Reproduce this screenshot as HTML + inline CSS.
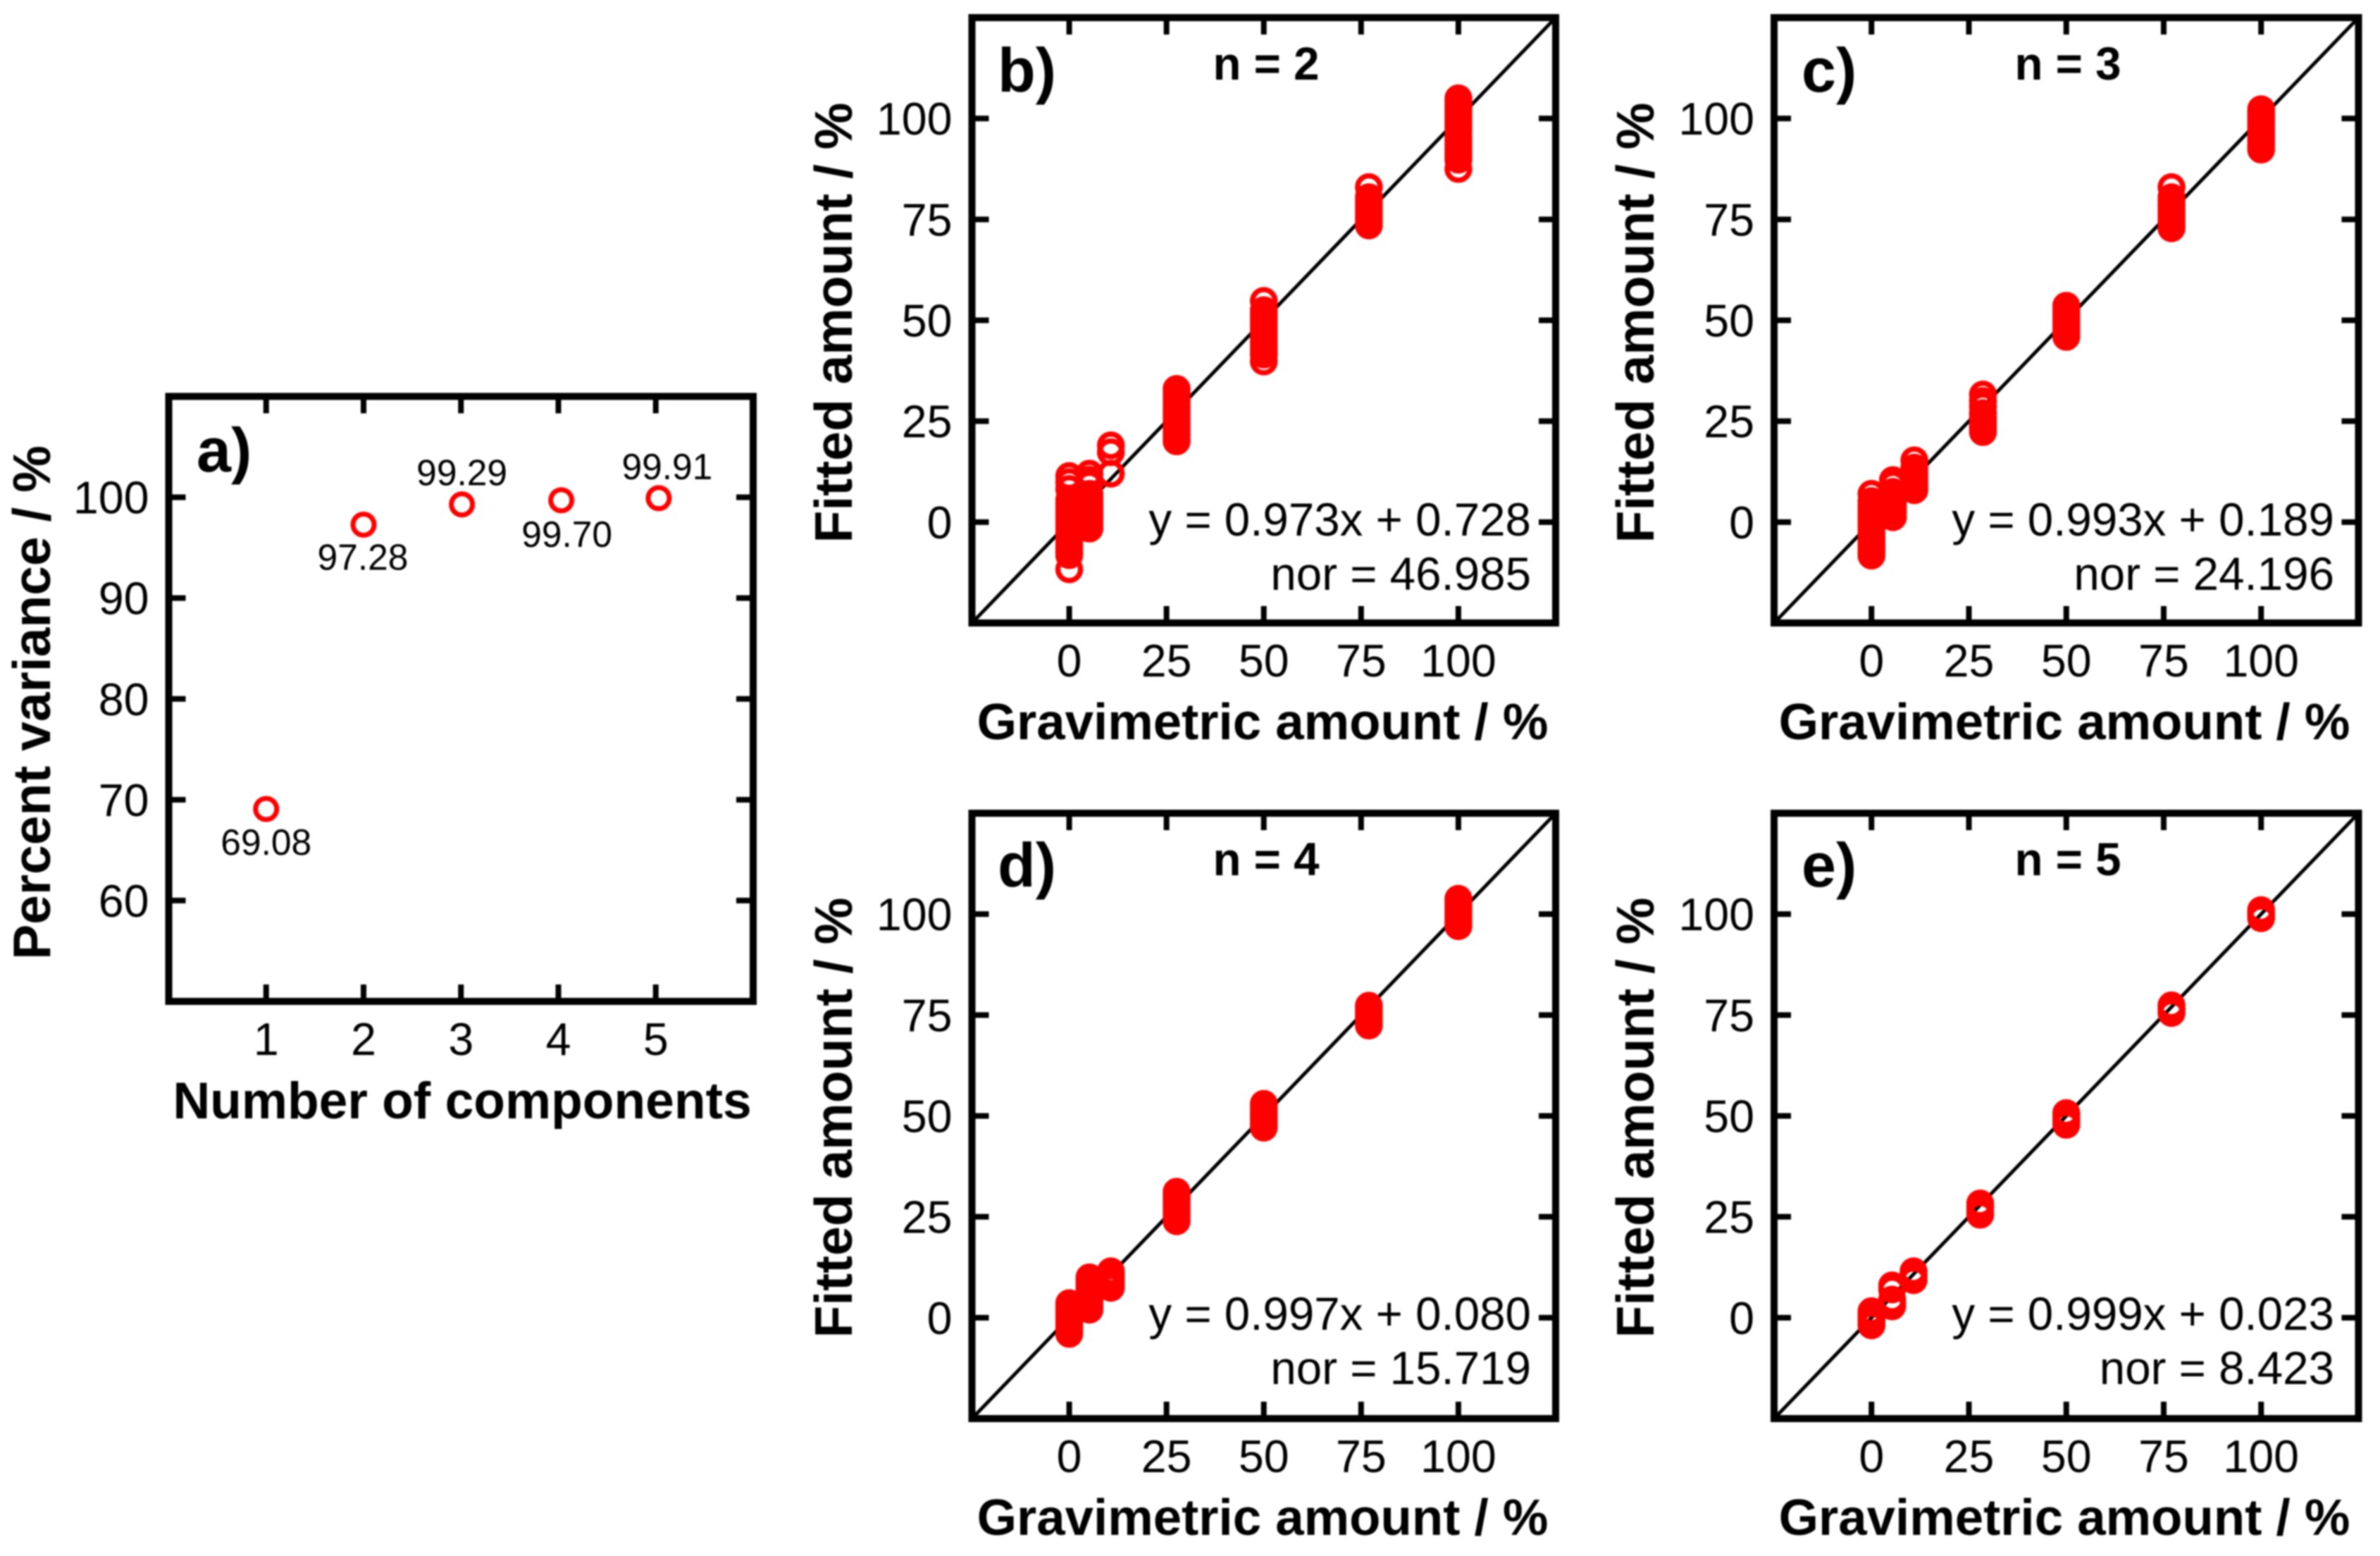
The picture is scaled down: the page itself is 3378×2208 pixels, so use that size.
<!DOCTYPE html>
<html lang="en">
<head>
<meta charset="utf-8">
<title>Percent variance and fitted versus gravimetric amount</title>
<style>
html,body{margin:0;padding:0;background:#fff;}
body{width:3378px;height:2208px;overflow:hidden;}
svg{display:block;filter:blur(1px);}
text{font-family:"Liberation Sans",Arial,sans-serif;fill:#000;}
.tick{font-size:64.5px;}
.title-x{font-size:72.6px;font-weight:bold;text-anchor:middle;}
.title-y{font-size:75px;font-weight:bold;text-anchor:middle;}
.panel-label{font-size:88px;font-weight:bold;}
.n-label{font-size:65.5px;font-weight:bold;text-anchor:middle;}
.fit{font-size:65.5px;text-anchor:end;}
.frame{fill:none;stroke:#000;stroke-width:10;}
</style>
</head>
<body>
<svg id="figure" xmlns="http://www.w3.org/2000/svg" width="3378" height="2208" viewBox="0 0 3378 2208">
  <rect x="0" y="0" width="3378" height="2208" fill="#fff"/>

  <g id="panel-a">
    <text class="title-y" x="71" y="997" transform="rotate(-90 71 997)">Percent variance / %</text>
    <text class="title-x" style="font-size:73.2px" x="656" y="1587">Number of components</text>
    <text class="panel-label" x="279" y="669">a)</text>
  </g>

  <g id="panel-b">
    <text class="title-y" x="1209" y="458" transform="rotate(-90 1209 458)">Fitted amount / %</text>
    <text class="title-x" x="1792" y="1049">Gravimetric amount / %</text>
    <text class="panel-label" x="1416" y="130">b)</text>
    <text class="n-label" x="1797" y="113">n = 2</text>
    <text class="fit" x="2173" y="760">y = 0.973x + 0.728</text>
    <text class="fit" x="2173" y="837">nor = 46.985</text>
  </g>

  <g id="panel-c">
    <text class="title-y" x="2347" y="458" transform="rotate(-90 2347 458)">Fitted amount / %</text>
    <text class="title-x" x="2930" y="1049">Gravimetric amount / %</text>
    <text class="panel-label" x="2557" y="130">c)</text>
    <text class="n-label" x="2935" y="113">n = 3</text>
    <text class="fit" x="3313" y="760">y = 0.993x + 0.189</text>
    <text class="fit" x="3313" y="837">nor = 24.196</text>
  </g>

  <g id="panel-d">
    <text class="title-y" x="1209" y="1586" transform="rotate(-90 1209 1586)">Fitted amount / %</text>
    <text class="title-x" x="1792" y="2178">Gravimetric amount / %</text>
    <text class="panel-label" x="1416" y="1258">d)</text>
    <text class="n-label" x="1797" y="1242">n = 4</text>
    <text class="fit" x="2173" y="1887">y = 0.997x + 0.080</text>
    <text class="fit" x="2173" y="1964">nor = 15.719</text>
  </g>

  <g id="panel-e">
    <text class="title-y" x="2347" y="1586" transform="rotate(-90 2347 1586)">Fitted amount / %</text>
    <text class="title-x" x="2930" y="2178">Gravimetric amount / %</text>
    <text class="panel-label" x="2557" y="1258">e)</text>
    <text class="n-label" x="2935" y="1242">n = 5</text>
    <text class="fit" x="3313" y="1887">y = 0.999x + 0.023</text>
    <text class="fit" x="3313" y="1964">nor = 8.423</text>
  </g>
</svg>

<script>
// ---- data ----
const componentTicks = [1, 2, 3, 4, 5];
const varianceTicks = [60, 70, 80, 90, 100];
const amountTicks = [0, 25, 50, 75, 100];

const componentCounts = [1, 2, 3.01, 4.03, 5.03];
const percentVariance = [69.08, 97.28, 99.29, 99.70, 99.91];
const varianceLabels = ['69.08', '97.28', '99.29', '99.70', '99.91'];

const gravimetricB = [0, 5.2, 10.7, 27.6, 50, 77, 100];
const fittedB0 = [11.4, 9.9, 8.2, 5.5, 4.5, 3.5, 2.5, 1.5, 0.5, -0.5, -1.5, -2.5, -3.3, -4.2, -5, -5.8, -6.6, -7.5, -8.2, -11.7];
const fittedB5 = [12, 10.5, 9.3, 7, 6, 5, 4, 3.2, 2.5, 1.8, 1, 0.2, -0.8, -1.6];
const fittedB10 = [19, 17.3, 12];
const fittedB27 = [33, 32, 31, 29.8, 28.6, 27.5, 26.5, 25.5, 24.5, 23.5, 22.5, 21.5, 20.5, 20];
const fittedB50 = [54.8, 52.5, 51.5, 50.5, 49.5, 48.5, 47.5, 46.5, 45.5, 44.5, 43.5, 42.5, 41.5, 39.8];
const fittedB77 = [83, 80.5, 79.5, 78.5, 77.5, 76.5, 75.5, 74.5, 73.5];
const fittedB100 = [105, 104, 103, 102, 101, 100, 99, 98, 97, 95.5, 94.5, 93.5, 92.5, 91.5, 90.5, 89.8, 87.5];

const gravimetricC = [0, 5.5, 11, 28.6, 50, 77, 100];
const fittedC0 = [7, 5.2, 4.2, 3.2, 2.2, 1.2, 0.2, -0.8, -1.8, -2.8, -3.8, -4.8, -5.8, -6.8, -7.6, -8.3];
const fittedC5 = [10.4, 9.3, 7.5, 6.5, 5.5, 4.5, 3.5, 2.5, 1.2];
const fittedC10 = [15.3, 13.5, 12.5, 11.5, 10.5, 9.5, 8.7, 7.9];
const fittedC27 = [31.6, 30, 28.7, 27, 26, 25, 24, 23.2, 22.3];
const fittedC50 = [53.6, 52.7, 51.7, 50.7, 49.7, 48.7, 47.7, 46.7, 45.9];
const fittedC77 = [83, 80.5, 79.5, 78.5, 77.5, 76.5, 75.5, 74.5, 73.5, 72.8];
const fittedC100 = [102.3, 101.3, 100.3, 99.3, 98.3, 97.3, 96.3, 95.3, 94.3, 93.3, 92.3];

const gravimetricD = [0, 5.2, 10.7, 27.6, 50, 77, 100];
const fittedD0 = [3.6, 2.8, 2, 1.2, 0.4, -0.4, -1.2, -2, -2.8, -3.5, -4];
const fittedD5 = [10, 9.2, 8.4, 7.6, 6.8, 6, 5.2, 4.4, 3.6, 2.8, 2];
const fittedD10 = [11.5, 10.8, 10.1, 9.4, 8.7, 8, 7.4];
const fittedD27 = [31.2, 30.4, 29.6, 28.8, 28, 27.2, 26.4, 25.6, 24.8, 23.9];
const fittedD50 = [53, 52.2, 51.4, 50.6, 49.8, 49, 48.2, 47.6, 47.1];
const fittedD77 = [77.3, 76.6, 75.9, 75.2, 74.5, 73.8, 73.1, 72.4];
const fittedD100 = [103.8, 103, 102.2, 101.4, 100.6, 99.8, 99, 98.2, 97.5, 97];

const gravimetricE = [0, 5.3, 10.8, 27.9, 50, 77, 100];
const fittedE0 = [1.6, 0.8, 0, -0.5, -1, -1.9];
const fittedE5 = [8, 7, 4.5, 3.8, 3.2, 2.8];
const fittedE10 = [11.5, 11, 10.5, 10, 9.3];
const fittedE27 = [28.3, 27.5, 26.5, 25.5];
const fittedE50 = [50.7, 50, 49.3, 48.5, 47.8];
const fittedE77 = [77.4, 76.8, 76.2, 75.5];
const fittedE100 = [101, 100.3, 100, 99.3, 99];

const amountDomain = [-25, 125];
const componentDomain = [0, 6];
const varianceDomain = [50, 110];

// ---- layout ----
const NS = 'http://www.w3.org/2000/svg';
const labelNudges = [[0, 65], [-1, 64], [0, -27], [8, 66], [12, -27]];

function makeScale(domain, a, b) {
  return function (v) {
    return a + (v - domain[0]) / (domain[1] - domain[0]) * (b - a);
  };
}

function make(tag, attrs, parent) {
  const el = document.createElementNS(NS, tag);
  for (const k in attrs) el.setAttribute(k, attrs[k]);
  parent.appendChild(el);
  return el;
}

function drawAxes(g, box, sx, sy, xTicks, yTicks) {
  const left = box[0], top = box[1], right = box[2], bottom = box[3];
  const len = 24;
  xTicks.forEach(function (t) {
    const x = sx(t);
    const lo = make('line', { x1: x, x2: x, y1: bottom, y2: bottom - len, stroke: '#000', 'stroke-width': 8 }, g);
    
    
    const hi = make('line', { x1: x, x2: x, y1: top, y2: top + len, stroke: '#000', 'stroke-width': 8 }, g);
    
    
    const lab = make('text', { x: x, y: bottom + 76, class: 'tick', 'text-anchor': 'middle' }, g);
    
    
    lab.textContent = String(t);
  });
  yTicks.forEach(function (t) {
    const y = sy(t);
    const lo = make('line', { x1: left, x2: left + len, y1: y, y2: y, stroke: '#000', 'stroke-width': 8 }, g);
    
    
    const hi = make('line', { x1: right, x2: right - len, y1: y, y2: y, stroke: '#000', 'stroke-width': 8 }, g);
    
    
    const lab = make('text', { x: left - 28, y: y + 23, class: 'tick', 'text-anchor': 'end' }, g);
    
    
    lab.textContent = String(t);
  });
}

function drawFrame(g, box) {
  const r = make('rect', { x: box[0], y: box[1], width: box[2] - box[0], height: box[3] - box[1], class: 'frame' }, g);
  
  
}

function drawScatterPanel(id, box, grav, clusters) {
  const g = document.getElementById(id);
  const sx = makeScale(amountDomain, box[0], box[2]);
  const sy = makeScale(amountDomain, box[3], box[1]);
  const diag = make('line', {
    x1: sx(amountDomain[0]), y1: sy(amountDomain[0]),
    x2: sx(amountDomain[1]), y2: sy(amountDomain[1]),
    stroke: '#000', 'stroke-width': 5
  }, g);
  
  
  drawAxes(g, box, sx, sy, amountTicks, amountTicks);
  drawFrame(g, box);
  clusters.forEach(function (values, i) {
    values.forEach(function (v) {
      const c = make('circle', { cx: sx(grav[i]), cy: sy(v), r: 16, fill: 'none', stroke: '#ff0000', 'stroke-width': 7.5 }, g);
      
      
    });
  });
}

// panel a
(function () {
  const g = document.getElementById('panel-a');
  const box = [239.5, 562.5, 1069, 1421];
  const sx = makeScale(componentDomain, box[0], box[2]);
  const sy = makeScale(varianceDomain, box[3], box[1]);
  drawAxes(g, box, sx, sy, componentTicks, varianceTicks);
  drawFrame(g, box);
  componentCounts.forEach(function (n, i) {
    const c = make('circle', { cx: sx(n), cy: sy(percentVariance[i]), r: 15, fill: 'none', stroke: '#ff0000', 'stroke-width': 7 }, g);
    
    
    const t = make('text', {
      x: sx(n) + labelNudges[i][0], y: sy(percentVariance[i]) + labelNudges[i][1],
      'font-size': 51.5, 'text-anchor': 'middle'
    }, g);
    
    
    t.textContent = varianceLabels[i];
  });
})();

drawScatterPanel('panel-b', [1379.5, 25, 2208, 884], gravimetricB,
  [fittedB0, fittedB5, fittedB10, fittedB27, fittedB50, fittedB77, fittedB100]);
drawScatterPanel('panel-c', [2518, 25, 3347.5, 884], gravimetricC,
  [fittedC0, fittedC5, fittedC10, fittedC27, fittedC50, fittedC77, fittedC100]);
drawScatterPanel('panel-d', [1379.5, 1154, 2208, 2013], gravimetricD,
  [fittedD0, fittedD5, fittedD10, fittedD27, fittedD50, fittedD77, fittedD100]);
drawScatterPanel('panel-e', [2518, 1154, 3347.5, 2013], gravimetricE,
  [fittedE0, fittedE5, fittedE10, fittedE27, fittedE50, fittedE77, fittedE100]);
</script>
</body>
</html>
